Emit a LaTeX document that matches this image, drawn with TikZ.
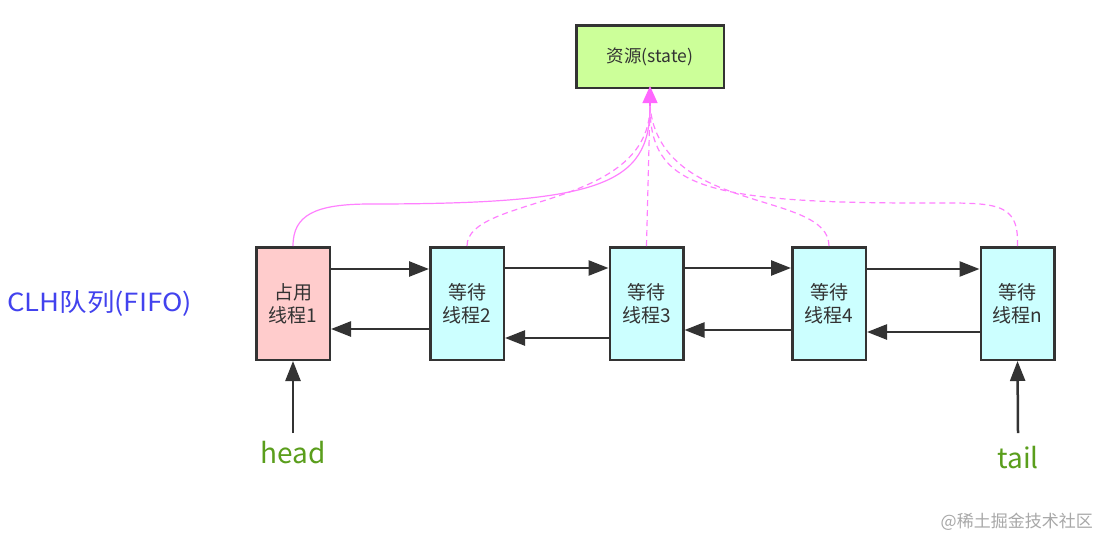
\documentclass[tikz,border=0pt]{standalone}
\usepackage{fontspec}
\setmainfont{Noto Sans CJK SC}
\usetikzlibrary{arrows.meta,calc}
\definecolor{boxline}{HTML}{333333}
\definecolor{txt}{HTML}{333333}
\definecolor{pinkfill}{HTML}{FFCCCC}
\definecolor{cyanfill}{HTML}{CCFFFF}
\definecolor{greenfill}{HTML}{CCFF99}
\definecolor{pinkline}{HTML}{FF80FF}
\definecolor{pinktip}{HTML}{FF66FF}
\definecolor{labelgreen}{HTML}{5A9E1C}
\definecolor{labelblue}{HTML}{4242EE}
\definecolor{wm}{HTML}{A8A8A8}
\tikzset{
  thread/.style={draw=boxline, line width=2.5pt, minimum width=73.5pt, minimum height=112.5pt,
    inner sep=0pt, align=center, text=txt, font=\fontsize{19}{23}\selectfont},
  resbox/.style={draw=boxline, line width=2.5pt, fill=greenfill, minimum width=147.5pt,
    minimum height=62.5pt, inner sep=0pt, text=txt, font=\fontsize{17.5}{20}\selectfont},
  link/.style={draw=boxline, line width=2.5pt, -{Triangle[length=20pt,width=15pt]}},
  share/.style={draw=pinkline, line width=1.2pt},
  sharedash/.style={share, dash pattern=on 6pt off 4pt},
  ptr/.style={draw=boxline, line width=2.5pt, -{Triangle[length=20pt,width=15pt]}},
  ptrlabel/.style={text=labelgreen, font=\fontsize{28}{32}\selectfont, inner sep=0pt}
}
\begin{document}
\begin{tikzpicture}[x=1pt,y=-1pt]
\useasboundingbox (0,0) rectangle (1110,550);
\fill[white] (0,0) rectangle (1110,550);

\node[resbox] (res) at (650,56.5) {资源(state)};

\node[thread, fill=pinkfill] (b1) at (293,303.5) {占用\\线程1};
\node[thread, fill=cyanfill] (b2) at (467,303.5) {等待\\线程2};
\node[thread, fill=cyanfill] (b3) at (646.5,303.5) {等待\\线程3};
\node[thread, fill=cyanfill] (b4) at (829,303.5) {等待\\线程4};
\node[thread, fill=cyanfill] (b5) at (1017.5,303.5) {等待\\线程n};

% forward links
\draw[link] ($(b1.north east)+(0,23)$) -- ($(b2.north west)+(0,23)$);
\draw[link] ($(b2.north east)+(0,22)$) -- ($(b3.north west)+(0,22)$);
\draw[link] ($(b3.north east)+(0,22)$) -- ($(b4.north west)+(0,22)$);
\draw[link] ($(b4.north east)+(0,23)$) -- ($(b5.north west)+(0,23)$);
% backward links
\draw[link] ($(b2.north west)+(0,83)$) -- ($(b1.north east)+(0,83)$);
\draw[link] ($(b3.north west)+(0,92)$) -- ($(b2.north east)+(0,92)$);
\draw[link] ($(b4.north west)+(0,84)$) -- ($(b3.north east)+(0,84)$);
\draw[link] ($(b5.north west)+(0,86)$) -- ($(b4.north east)+(0,86)$);

% shared resource curves
\coordinate (hub) at (650,106);
\draw[share] (b1.north) .. controls (293,215) and (315,204) .. (370,204)
  .. controls (600,204) and (650,185) .. (hub);
\draw[sharedash] (b2.north) .. controls (467,195) and (650,210) .. (hub);
\draw[sharedash] (b3.north) -- (hub);
\draw[sharedash] (b4.north) .. controls (829,190) and (660,215) .. (hub);
\draw[sharedash] (b5.north) .. controls (1019,200) and (995,203) .. (920,203)
  .. controls (700,203) and (650,185) .. (hub);
\draw[draw=pinkline, line width=1.2pt, -{Triangle[length=17pt,width=15pt,fill=pinktip]}, shorten >=-3pt, pinktip] (hub) -- (res.south);

% head / tail
\node[ptrlabel] (head) at (293,453) {head};
\node[ptrlabel] (tail) at (1018,458) {tail};
\coordinate (headstart) at (293,433);
\coordinate (tailstart) at (1018,433);
\draw[ptr] (headstart) -- (b1.south);
\draw[ptr] (tailstart) -- (b5.south);

\node[text=labelblue, font=\fontsize{25}{30}\selectfont, anchor=west, inner sep=0pt] (clh) at (7,303) {\scalebox{1.1}[1]{CLH队列(FIFO)}};
\node[text=wm, font=\fontsize{17}{20}\selectfont, anchor=east, inner sep=0pt] (wmark) at (1093,522) {@稀土掘金技术社区};
\end{tikzpicture}
\end{document}
